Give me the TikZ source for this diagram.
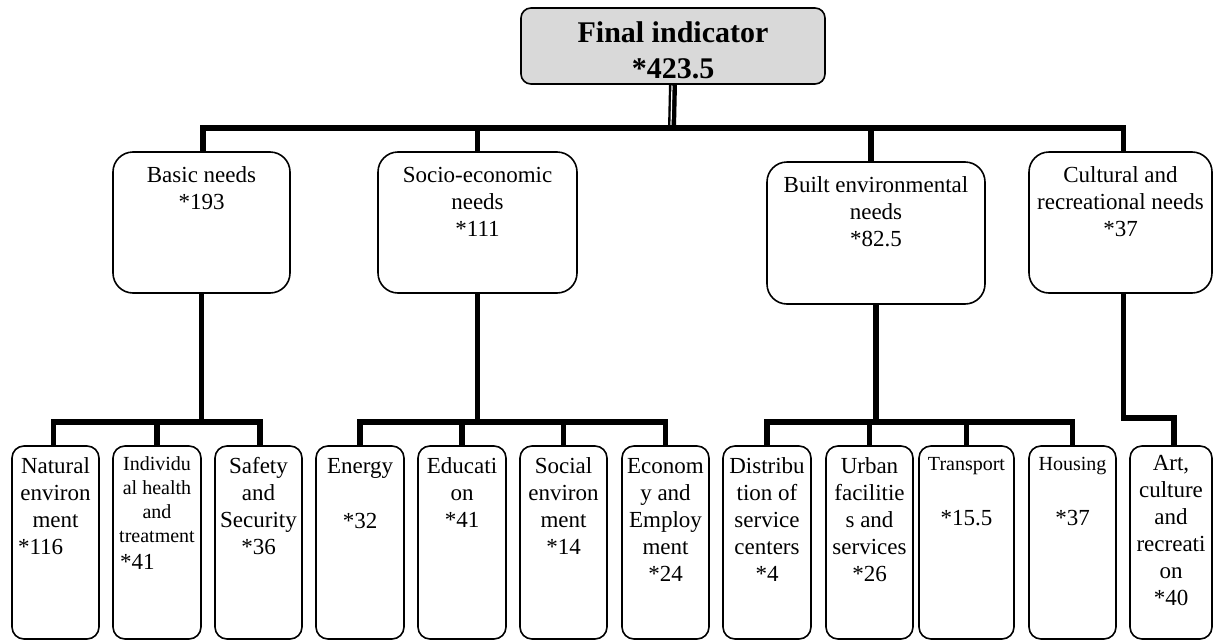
\documentclass[tikz,border=0pt]{standalone}
\usepackage{fontspec}
\setmainfont{Liberation Serif}
\usetikzlibrary{calc}
\definecolor{rootgray}{RGB}{217,217,217}
\newcommand{\tbox}[3]{\parbox[t][#2pt][t]{#1pt}{\centering\fontsize{23}{27}\selectfont #3}}
\tikzset{
  rootbox/.style={draw=black, line width=1.6pt, fill=rootgray, inner sep=0pt, outer sep=0pt, rounded corners=10pt},
  midbox/.style={draw=black, line width=1.6pt, inner sep=0pt, outer sep=0pt, rounded corners=20pt},
  leafbox/.style={draw=black, line width=1.6pt, inner sep=0pt, outer sep=0pt, rounded corners=12pt},
  conn/.style={draw=black, line width=5.5pt, line join=miter}
}
\begin{document}
\begin{tikzpicture}[x=1pt,y=-1pt]
\useasboundingbox (0,0) rectangle (1213,640);
% root
\node[rootbox] (root) at (673,46) {\tbox{304}{76}{\fontsize{30}{36}\selectfont\bfseries\rule{0pt}{34pt}Final indicator\\{*}423.5}};
% level 2
\node[midbox] (basic) at (201.5,222.5) {\tbox{177}{141}{\rule{0pt}{30pt}Basic needs\\{*}193}};
\node[midbox] (socio) at (477.5,222.5) {\tbox{199}{141}{\rule{0pt}{30pt}Socio-economic\\needs\\{*}111}};
\node[midbox] (built) at (876,233) {\tbox{218}{142}{\rule{0pt}{30pt}Built environmental\\needs\\{*}82.5}};
\node[midbox] (cult) at (1120.5,222.5) {\tbox{183}{141}{\rule{0pt}{30pt}Cultural and\\recreational needs\\{*}37}};
% level 3
\node[leafbox] (nat) at (55.5,542.5) {\tbox{87}{193}{\rule{0pt}{27pt}Natural\\environ\\ment\\\makebox[75pt][l]{*116}}};
\node[leafbox] (ind) at (157,542.5) {\tbox{88}{193}{{\fontsize{20}{24}\selectfont\rule{0pt}{24pt}Individu\\al health\\and\\treatment\par}\makebox[74pt][l]{*41}}};
\node[leafbox] (saf) at (258.5,542.5) {\tbox{87}{193}{\rule{0pt}{27pt}Safety\\and\\Security\\{*}36}};
\node[leafbox] (ene) at (360,542.5) {\tbox{88}{193}{\rule{0pt}{27pt}Energy\\[28pt]*32}};
\node[leafbox] (edu) at (462,542.5) {\tbox{88}{193}{\rule{0pt}{27pt}Educati\\on\\{*}41}};
\node[leafbox] (soc) at (563.5,542.5) {\tbox{87}{193}{\rule{0pt}{27pt}Social\\environ\\ment\\{*}14}};
\node[leafbox] (eco) at (665.5,542.5) {\tbox{87}{193}{\rule{0pt}{27pt}Econom\\y and\\Employ\\ment\\{*}24}};
\node[leafbox] (dis) at (767,542.5) {\tbox{88}{193}{\rule{0pt}{27pt}Distribu\\tion of\\service\\centers\\{*}4}};
\node[leafbox] (urb) at (869.5,542.5) {\tbox{87}{193}{\rule{0pt}{27pt}Urban\\facilitie\\s and\\services\\{*}26}};
\node[leafbox] (tra) at (966.5,542.5) {\tbox{95}{193}{\rule{0pt}{24pt}{\fontsize{20}{24}\selectfont Transport}\\[28pt]*15.5}};
\node[leafbox] (hou) at (1072.5,542.5) {\tbox{87}{193}{\rule{0pt}{24pt}{\fontsize{20}{24}\selectfont Housing}\\[28pt]*37}};
\node[leafbox] (art) at (1171,542.5) {\tbox{82}{193}{\rule{0pt}{24pt}Art,\\culture\\and\\recreati\\on\\{*}40}};
% root connectors
\coordinate (bus) at (672,128);
\draw[line width=8pt] (root.south) -- (bus);
\draw[white, line width=1.2pt] ([xshift=-1pt,yshift=-1.5pt]root.south) -- ([xshift=-1pt,yshift=3pt]bus);
\draw[conn] ([xshift=1.5pt]basic.north) |- (bus) -| ([xshift=3pt]cult.north);
\draw[conn] (socio.north) -- (socio.north |- bus);
\draw[conn] ([xshift=-5pt]built.north) -- ([xshift=-5pt]built.north |- bus);
% basic needs
\coordinate (bB) at ($(basic.south)+(0,129)$);
\draw[conn] (basic.south) -- (bB);
\draw[conn] ([xshift=-2pt]nat.north) |- (bB) -| ([xshift=1.5pt]saf.north);
\draw[conn] (ind.north) -- (ind.north |- bB);
% socio-economic
\coordinate (bS) at ($(socio.south)+(0,129)$);
\draw[conn] (socio.south) -- (bS);
\draw[conn] (ene.north) |- (bS) -| (eco.north);
\draw[conn] (edu.north) -- (edu.north |- bS);
\draw[conn] (soc.north) -- (soc.north |- bS);
% built environment
\coordinate (bT) at ($(built.south)+(0,118)$);
\draw[conn] (built.south) -- (bT);
\draw[conn] (dis.north) |- (bT) -| (hou.north);
\draw[conn] (urb.north) -- (urb.north |- bT);
\draw[conn] (tra.north) -- (tra.north |- bT);
% cultural
\draw[conn] ([xshift=3pt]cult.south) -- ++(0,125) -| ([xshift=3pt]art.north);
\end{tikzpicture}
\end{document}
